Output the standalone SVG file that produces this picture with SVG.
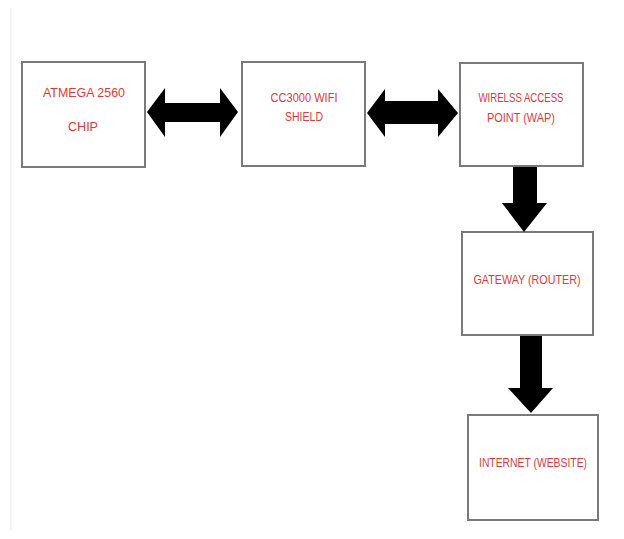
<svg xmlns="http://www.w3.org/2000/svg" width="624" height="539" viewBox="0 0 624 539">
<defs>
<style>
.box{fill:#fff;stroke:#7a7a7a;stroke-width:2}
.lbl{font-family:"Liberation Sans",Arial,sans-serif;font-size:13px;fill:#dd3a3a;text-anchor:middle}
.arr{fill:#000}
</style>
</defs>
<rect width="624" height="539" fill="#fff"/>
<line x1="11" y1="8" x2="11" y2="530" stroke="#efefef" stroke-width="1.5"/>
<g id="atmega">
<rect class="box" x="22" y="62" width="123" height="105"/>
<text class="lbl" x="84" y="97" textLength="82" lengthAdjust="spacingAndGlyphs">ATMEGA 2560</text>
<text class="lbl" x="83" y="131" textLength="30" lengthAdjust="spacingAndGlyphs">CHIP</text>
</g>
<g id="cc3000">
<rect class="box" x="242" y="62" width="123" height="104"/>
<text class="lbl" x="304" y="102" textLength="67" lengthAdjust="spacingAndGlyphs">CC3000 WIFI</text>
<text class="lbl" x="304" y="121" textLength="38" lengthAdjust="spacingAndGlyphs">SHIELD</text>
</g>
<g id="wap">
<rect class="box" x="460" y="63" width="123" height="103"/>
<text class="lbl" x="521" y="102" textLength="85" lengthAdjust="spacingAndGlyphs">WIRELSS ACCESS</text>
<text class="lbl" x="521" y="122" textLength="68" lengthAdjust="spacingAndGlyphs">POINT (WAP)</text>
</g>
<g id="gateway">
<rect class="box" x="462" y="232" width="131" height="103"/>
<text class="lbl" x="527" y="284" textLength="107" lengthAdjust="spacingAndGlyphs">GATEWAY (ROUTER)</text>
</g>
<g id="internet">
<rect class="box" x="468" y="415" width="130" height="105"/>
<text class="lbl" x="533" y="467" textLength="108" lengthAdjust="spacingAndGlyphs">INTERNET (WEBSITE)</text>
</g>
<g id="connectors">
<path class="arr" d="M147,112 L165,88 L165,103 L220,103 L220,88 L238,112 L220,137 L220,122 L165,122 L165,137 Z"/>
<path class="arr" d="M367,113 L385,89 L385,101 L438,101 L438,89 L458,113 L438,137 L438,124 L385,124 L385,137 Z"/>
<path class="arr" d="M513,167 L537,167 L537,203 L547,203 L524,232 L502,203 L513,203 Z"/>
<path class="arr" d="M520,336 L542,336 L542,388 L553,388 L531,413 L508,388 L520,388 Z"/>
</g>
</svg>
